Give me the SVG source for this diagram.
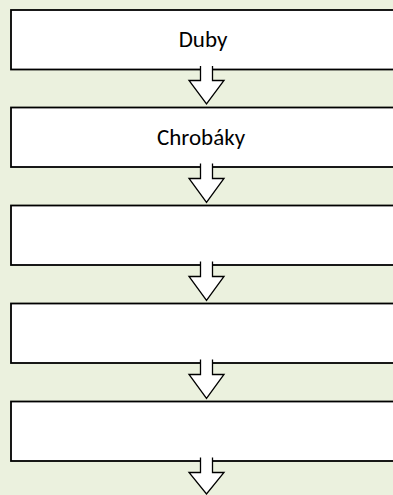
<svg xmlns="http://www.w3.org/2000/svg" width="393" height="495" viewBox="0 0 393 495">
<style>
.bg{fill:#EBF1DE}
.box{fill:#FFFFFF;stroke:#000000;stroke-width:1.8}
.arrow{fill:#FFFFFF;stroke:#000000;stroke-width:1.3;stroke-linejoin:miter}
.lbl{font-family:Carlito,Lato,"Liberation Sans",sans-serif;font-size:23px;fill:#000000;text-anchor:middle}
</style>
<rect class="bg" x="0" y="0" width="393" height="495"/>
<g id="node1"><rect class="box" x="11" y="10" width="400" height="59.5"/><text class="lbl" x="203" y="46.5">Duby</text></g>
<g id="node2"><rect class="box" x="11" y="107.5" width="400" height="59.5"/><text class="lbl" x="201" y="145">Chrobáky</text></g>
<g id="node3"><rect class="box" x="11" y="205.5" width="400" height="59.5"/></g>
<g id="node4"><rect class="box" x="11" y="303.5" width="400" height="59.5"/></g>
<g id="node5"><rect class="box" x="11" y="401.5" width="400" height="59.5"/></g>
<g id="connectors">
<path class="arrow" d="M200.5,66 V80.5 H189 L206.5,104 L224,80.5 H212.5 V66"/>
<path class="arrow" d="M200.5,163.5 V178.5 H189 L206.5,202.5 L224,178.5 H212.5 V163.5"/>
<path class="arrow" d="M200.5,261.5 V276.5 H189 L206.5,300.5 L224,276.5 H212.5 V261.5"/>
<path class="arrow" d="M200.5,359.5 V374.5 H189 L206.5,398.5 L224,374.5 H212.5 V359.5"/>
<path class="arrow" d="M200.5,457.5 V472.5 H189 L206.5,494 L224,472.5 H212.5 V457.5"/>
</g>
</svg>
